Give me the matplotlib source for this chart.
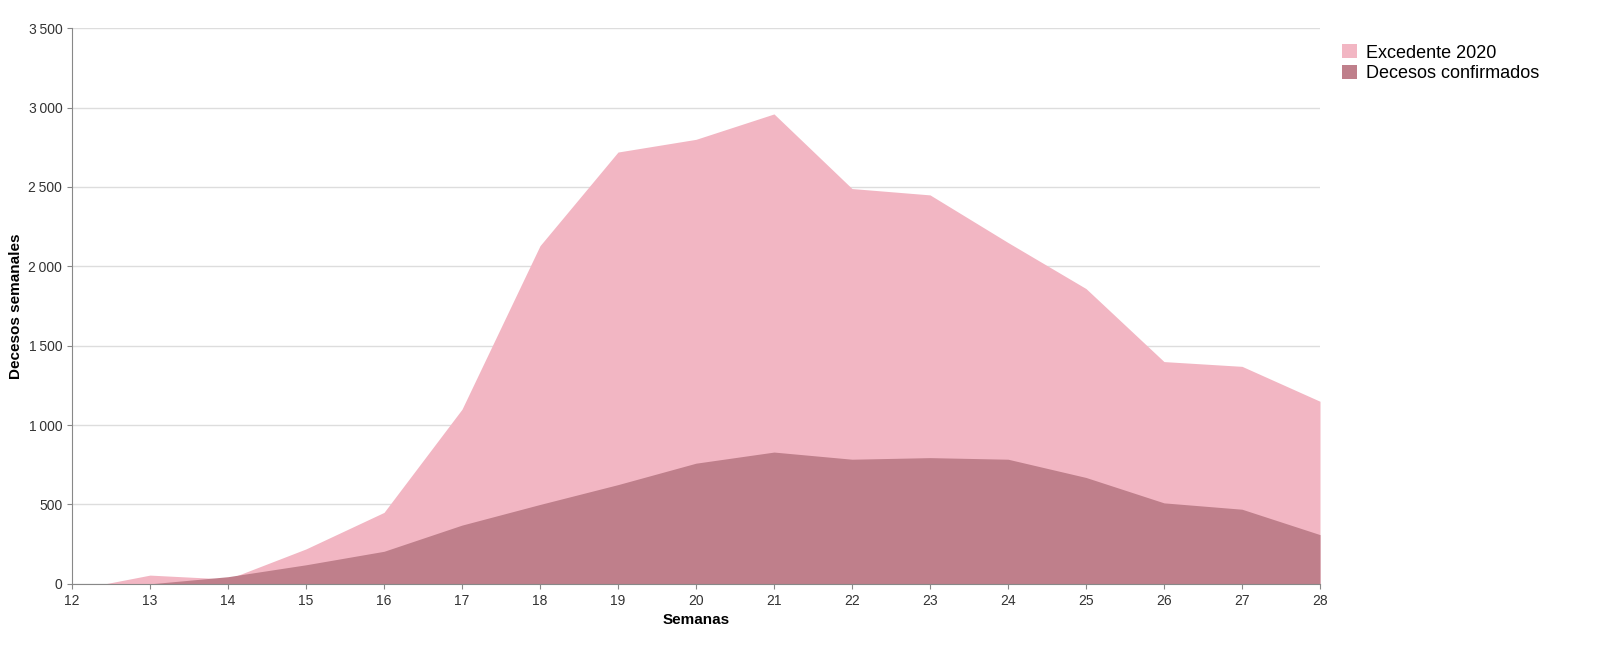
import matplotlib
matplotlib.use("Agg")
import matplotlib.pyplot as plt

weeks = list(range(12, 29))
excedente = [-40, 55, 30, 220, 450, 1100, 2130, 2720, 2800, 2960, 2490, 2450, 2150, 1860, 1400, 1370, 1150]
confirmados = [0, 0, 45, 120, 205, 370, 500, 625, 760, 830, 785, 795, 785, 670, 510, 470, 310]

plt.rcParams['font.family'] = ['Liberation Sans', 'DejaVu Sans']
fig = plt.figure(figsize=(16, 6.56), dpi=100)
ax = fig.add_axes([0.045, 0.11, 0.78, 0.847])
c1, c2 = '#f2b6c3', '#bf7f8b'
ax.fill_between(weeks, 0, excedente, color=c1, lw=0, label='Excedente 2020')
ax.fill_between(weeks, 0, confirmados, color=c2, lw=0, label='Decesos confirmados')
ax.set_xlim(12, 28)
ax.set_ylim(0, 3500)
ax.set_xticks(weeks)
ax.set_yticks(range(0, 3501, 500))
ax.set_yticklabels([f"{v:,}".replace(",", "\u2009") for v in range(0, 3501, 500)])
ax.grid(axis='y', color='#dddddd', lw=1)
ax.set_axisbelow(True)
for s in ['top', 'right']:
    ax.spines[s].set_visible(False)
ax.spines['left'].set_color('#888888')
ax.spines['bottom'].set_color('#888888')
ax.tick_params(colors='#333333', labelsize=10, color='#888888')
ax.set_xlabel('Semanas', fontsize=11, fontweight='bold')
ax.set_ylabel('Decesos semanales', fontsize=11, fontweight='bold')
ax.legend(loc='upper left', bbox_to_anchor=(1.005, 1.0), frameon=False, fontsize=13,
          handlelength=0.8, handleheight=0.8, handletextpad=0.5, labelspacing=0.2)
fig.savefig('out.png')
